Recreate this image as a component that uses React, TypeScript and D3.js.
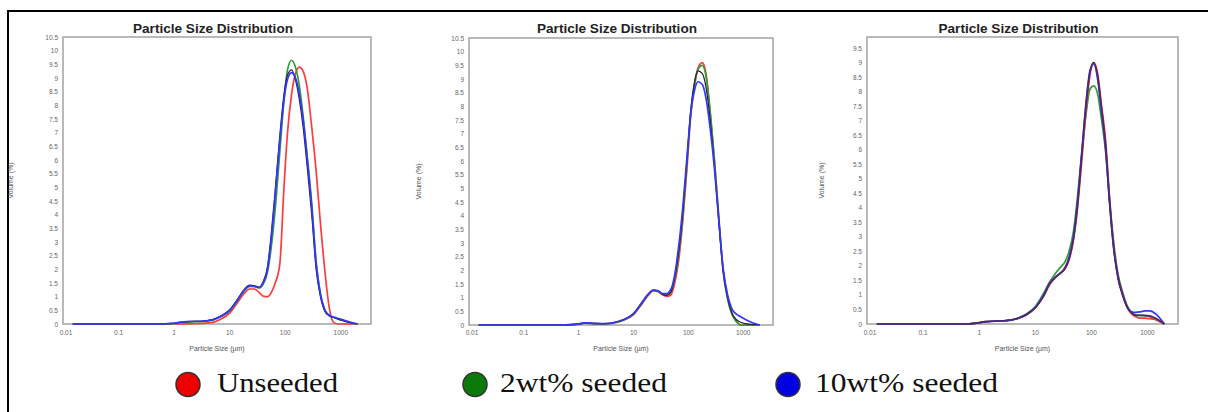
import * as d3 from "d3";

// particle sizes (µm) sampled for every curve
const sizes = [
  0.015, 0.5, 0.9, 1.3, 2, 3, 5, 7, 10, 14, 18, 23, 28, 34, 40, 48, 56, 66, 80,
  95, 110, 130, 150, 180, 210, 250, 300, 360, 430, 520, 620, 750, 900, 1100,
  1400, 2000,
];

const xTicks = [0.01, 0.1, 1, 10, 100, 1000];
const yTicksA = d3.range(0, 10.51, 0.5);
const yTicksB = d3.range(0, 9.51, 0.5);

// panel 1
const p1Unseeded = [0, 0, 0, 0, 0.01, 0.02, 0.06, 0.18, 0.4, 0.8, 1.1, 1.28, 1.28, 1.15, 1.02, 1.0, 1.15, 1.5, 2.2, 5.0, 7.0, 8.4, 9.1, 9.4, 9.25, 8.6, 7.2, 5.6, 3.7, 1.9, 0.6, 0.05, 0, 0, 0, 0];
const p1Seed2 = [0, 0, 0.01, 0.05, 0.08, 0.09, 0.15, 0.27, 0.48, 0.88, 1.2, 1.38, 1.37, 1.32, 1.45, 1.9, 2.8, 4.2, 6.3, 8.2, 9.3, 9.65, 9.45, 8.7, 7.6, 6.1, 4.4, 2.3, 1.1, 0.5, 0.3, 0.24, 0.18, 0.13, 0.06, 0];
const p1Seed10 = [0, 0, 0.02, 0.07, 0.1, 0.1, 0.16, 0.28, 0.5, 0.9, 1.22, 1.4, 1.38, 1.33, 1.5, 2.0, 3.1, 4.7, 6.7, 8.2, 8.95, 9.2, 9.05, 8.4, 7.5, 6.0, 4.3, 2.2, 1.1, 0.5, 0.32, 0.25, 0.2, 0.15, 0.08, 0];
const p1Repeat = [0, 0, 0.02, 0.06, 0.09, 0.1, 0.16, 0.3, 0.52, 0.92, 1.25, 1.42, 1.4, 1.35, 1.55, 2.1, 3.3, 4.9, 6.9, 8.4, 9.1, 9.3, 9.0, 8.2, 7.2, 5.7, 4.0, 2.0, 1.0, 0.45, 0.3, 0.24, 0.18, 0.12, 0.06, 0];

// panel 2
const p2Unseeded = [0, 0, 0.02, 0.07, 0.05, 0.04, 0.1, 0.2, 0.38, 0.75, 1.05, 1.25, 1.22, 1.1, 1.05, 1.1, 1.5, 2.3, 3.9, 5.8, 7.6, 8.8, 9.4, 9.6, 9.2, 7.8, 6.0, 3.9, 2.0, 1.0, 0.45, 0.15, 0, 0, 0, 0];
const p2Seed2 = [0, 0, 0.02, 0.07, 0.05, 0.04, 0.1, 0.2, 0.4, 0.78, 1.08, 1.27, 1.24, 1.13, 1.1, 1.2, 1.65, 2.5, 4.1, 6.0, 7.7, 8.8, 9.35, 9.5, 9.1, 7.8, 6.0, 3.9, 2.0, 0.95, 0.4, 0.12, 0, 0, 0, 0];
const p2Seed10 = [0, 0, 0.03, 0.08, 0.06, 0.05, 0.12, 0.22, 0.42, 0.8, 1.1, 1.28, 1.25, 1.15, 1.15, 1.3, 1.8, 2.8, 4.4, 6.2, 7.7, 8.6, 8.9, 8.8, 8.3, 7.2, 5.7, 3.8, 2.1, 1.1, 0.6, 0.4, 0.3, 0.2, 0.1, 0];
const p2Repeat = [0, 0, 0.02, 0.07, 0.05, 0.05, 0.11, 0.22, 0.41, 0.8, 1.1, 1.28, 1.25, 1.12, 1.08, 1.2, 1.7, 2.6, 4.2, 6.1, 7.8, 8.9, 9.3, 9.2, 8.7, 7.5, 5.8, 3.8, 2.0, 1.0, 0.45, 0.2, 0.1, 0.05, 0.02, 0];

// panel 3
const p3Unseeded = [0, 0, 0.03, 0.08, 0.1, 0.12, 0.2, 0.32, 0.55, 0.95, 1.35, 1.6, 1.75, 1.9, 2.2, 2.9, 3.9, 5.4, 7.3, 8.6, 9.0, 8.6, 7.6, 6.3, 4.4, 2.7, 1.6, 1.05, 0.6, 0.35, 0.25, 0.2, 0.2, 0.18, 0.15, 0];
const p3Seed2 = [0, 0, 0.03, 0.08, 0.1, 0.12, 0.21, 0.35, 0.6, 1.05, 1.45, 1.75, 1.95, 2.15, 2.5, 3.2, 4.3, 5.7, 7.2, 8.1, 8.2, 7.9, 7.1, 5.9, 4.3, 2.8, 1.7, 1.1, 0.65, 0.4, 0.32, 0.3, 0.28, 0.25, 0.15, 0];
const p3Seed10 = [0, 0, 0.03, 0.07, 0.1, 0.11, 0.2, 0.33, 0.57, 0.98, 1.4, 1.62, 1.75, 1.95, 2.3, 3.0, 4.1, 5.7, 7.6, 8.75, 8.95, 8.4, 7.4, 6.0, 4.2, 2.6, 1.55, 1.0, 0.6, 0.42, 0.4, 0.42, 0.45, 0.45, 0.35, 0];
const p3Repeat = [0, 0, 0.03, 0.08, 0.1, 0.12, 0.2, 0.33, 0.56, 0.96, 1.38, 1.62, 1.75, 1.92, 2.25, 2.95, 4.0, 5.6, 7.5, 8.7, 9.0, 8.5, 7.5, 6.1, 4.3, 2.6, 1.6, 1.0, 0.6, 0.38, 0.3, 0.3, 0.3, 0.28, 0.2, 0];

const legendLabels = ["Unseeded", "2wt% seeded", "10wt% seeded"];
const legendFill = ["#ee0000", "#0b7a0b", "#0000e0"];
const red = "#ff3b3b";
const green = "#2e9e3a";
const blue = "#3535ff";
const dark = "#25203a";

const panels = [
  { left: 63, right: 371, top: 37, bottom: 324, yMax: 10.5, yTicks: yTicksA, series: [p1Unseeded, p1Seed2, p1Repeat, p1Seed10], colors: [red, green, dark, blue] },
  { left: 469, right: 773, top: 38, bottom: 325, yMax: 10.5, yTicks: yTicksA, series: [p2Unseeded, p2Seed2, p2Repeat, p2Seed10], colors: [red, green, dark, blue] },
  { left: 867, right: 1178, top: 37, bottom: 324, yMax: 9.88, yTicks: yTicksB, series: [p3Seed2, p3Unseeded, p3Seed10, p3Repeat], colors: [green, red, blue, "#4a2a6a"] },
];

const legendPos = [
  { cx: 188, tx: 217, w: 121 },
  { cx: 475, tx: 500, w: 167 },
  { cx: 788, tx: 815, w: 183 },
];

const Panel = ({ p, labelX }) => {
  const x = d3.scaleLog().domain([0.01, 3500]).range([p.left, p.right]);
  const y = d3.scaleLinear().domain([0, p.yMax]).range([p.bottom, p.top]);
  const line = d3
    .line<number>()
    .x((_, i) => x(sizes[i]))
    .y((d) => y(d))
    .curve(d3.curveMonotoneX);
  const cx = (p.left + p.right) / 2;
  const cy = (p.top + p.bottom) / 2;
  return (
    <g fontFamily="Arial, 'Liberation Sans', sans-serif">
      <rect x={p.left} y={p.top} width={p.right - p.left} height={p.bottom - p.top} fill="#fff" stroke="#a8a8a8" strokeWidth={1.6} />
      <text x={cx - 4} y={33} textAnchor="middle" fontSize={12} fontWeight="bold" fill="#222" textLength={160} lengthAdjust="spacingAndGlyphs">
        Particle Size Distribution
      </text>
      {p.yTicks.map((t) => (
        <text key={t} x={p.left - 5} y={y(t) + 2.5} textAnchor="end" fontSize={6.5} fill="#666">
          {d3.format("~g")(t)}
        </text>
      ))}
      {xTicks.map((t) => (
        <text key={t} x={x(t) + (t === 0.01 ? 3 : 0)} y={335} textAnchor="middle" fontSize={6.5} fill="#666">
          {t}
        </text>
      ))}
      <text x={cx} y={351} textAnchor="middle" fontSize={7} fill="#555">
        Particle Size (µm)
      </text>
      <text transform={`translate(${labelX},${cy}) rotate(-90)`} textAnchor="middle" fontSize={7} fill="#555">
        Volume (%)
      </text>
      {p.series.map((s, i) => (
        <path key={i} d={line(s) ?? ""} fill="none" stroke={p.colors[i]} strokeWidth={p.colors[i] === dark ? 1.2 : 1.7} strokeLinejoin="round" />
      ))}
    </g>
  );
};

const yLabelX = [13, 421, 824];

export default function App() {
  return (
    <svg width={1208} height={412} style={{ position: "absolute", left: 0, top: 0, background: "#fff" }}>
      <rect x={0} y={0} width={1208} height={412} fill="#fff" />
      <path d="M8,412 V11 H1208" fill="none" stroke="#000" strokeWidth={2} />
      {panels.map((p, i) => (
        <Panel key={i} p={p} labelX={yLabelX[i]} />
      ))}
      {legendLabels.map((label, i) => (
        <g key={label}>
          <circle cx={legendPos[i].cx} cy={384.5} r={12} fill={legendFill[i]} stroke="#333" strokeWidth={1.5} />
          <text x={legendPos[i].tx} y={392} fontFamily="'Liberation Serif', 'Times New Roman', serif" fontSize={28} fill="#111" textLength={legendPos[i].w} lengthAdjust="spacingAndGlyphs">
            {label}
          </text>
        </g>
      ))}
    </svg>
  );
}
